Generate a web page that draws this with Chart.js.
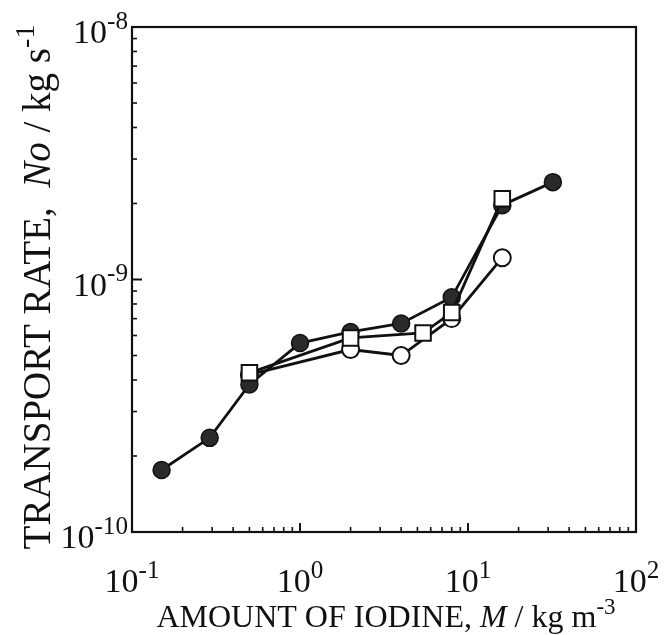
<!DOCTYPE html>
<html>
<head>
<meta charset="utf-8">
<script src="https://cdn.jsdelivr.net/npm/chart.js@4.4.1/dist/chart.umd.min.js"></script>
<style>
  body { margin: 0; background: #fff; }
</style>
</head>
<body>
<canvas id="myChart" width="669" height="635"></canvas>
<script>
// (log-log)
let filledX = [0.15, 0.29, 0.5, 1, 2, 4, 8, 16, 32];
let filledY = [1.76e-10, 2.36e-10, 3.84e-10, 5.6e-10, 6.2e-10, 6.7e-10, 8.5e-10, 1.97e-9, 2.43e-9];
let squareX = [0.5, 2, 5.4, 8, 16];
let squareY = [4.27e-10, 5.87e-10, 6.14e-10, 7.4e-10, 2.09e-9];
let openX = [0.5, 2, 4, 8, 16];
let openY = [4.2e-10, 5.28e-10, 5.0e-10, 7.0e-10, 1.22e-9];

let xTicks = [0.1, 1, 10, 100];
let xTickExp = ['-1', '0', '1', '2'];
let yTicks = [1e-10, 1e-9, 1e-8];
let yTickExp = ['-10', '-9', '-8'];

let serif = '"Liberation Serif", "DejaVu Serif", serif';

function pts(xs, ys) {
  return xs.map((x, i) => ({ x: x, y: ys[i] }));
}

// text made of pieces (italic / superscript)
function richWidth(ctx, parts, size, supRatio) {
  let w = 0;
  parts.forEach(p => {
    let s = p.sup ? size * supRatio : size;
    ctx.font = (p.italic ? 'italic ' : '') + s + 'px ' + serif;
    w += ctx.measureText(p.t).width;
  });
  return w;
}

function drawRich(ctx, parts, x, y, size, align, supRatio) {
  supRatio = supRatio || 0.68;
  let w = richWidth(ctx, parts, size, supRatio);
  let cx = x;
  if (align === 'center') cx = x - w / 2;
  if (align === 'right') cx = x - w;
  ctx.textBaseline = 'alphabetic';
  ctx.textAlign = 'left';
  parts.forEach(p => {
    let s = p.sup ? size * supRatio : size;
    ctx.font = (p.italic ? 'italic ' : '') + s + 'px ' + serif;
    ctx.fillText(p.t, cx, p.sup ? y - size * 0.42 : y);
    cx += ctx.measureText(p.t).width;
  });
}

let axesPlugin = {
  id: 'axesPlugin',
  afterDraw: (chart) => {
    let ctx = chart.ctx;
    let a = chart.chartArea;
    let xs = chart.scales.x;
    let ys = chart.scales.y;
    ctx.save();
    ctx.strokeStyle = '#111';
    ctx.fillStyle = '#111';
    ctx.lineWidth = 2.2;
    ctx.strokeRect(a.left, a.top, a.right - a.left, a.bottom - a.top);

    // bottom ticks, pointing in
    ctx.lineWidth = 1.6;
    for (let d = 0.1; d < 100; d *= 10) {
      for (let m = 1; m <= 10; m++) {
        let px = xs.getPixelForValue(d * m);
        let len = (m === 1 || m === 10) ? 9 : 5;
        ctx.beginPath();
        ctx.moveTo(px, a.bottom);
        ctx.lineTo(px, a.bottom - len);
        ctx.stroke();
      }
    }
    // left ticks, pointing in
    for (let d = 1e-10; d < 1e-8 * 0.99; d *= 10) {
      for (let m = 1; m <= 10; m++) {
        let py = ys.getPixelForValue(d * m);
        let len = (m === 1 || m === 10) ? 10 : 5;
        ctx.beginPath();
        ctx.moveTo(a.left, py);
        ctx.lineTo(a.left + len, py);
        ctx.stroke();
      }
    }

    // tick labels
    xTicks.forEach((v, i) => {
      let px = xs.getPixelForValue(v);
      drawRich(ctx, [{ t: '10' }, { t: xTickExp[i], sup: true }], px, 592, 34, 'center', 0.74);
    });
    yTicks.forEach((v, i) => {
      let py = ys.getPixelForValue(v);
      drawRich(ctx, [{ t: '10' }, { t: yTickExp[i], sup: true }], a.left - 4, py + 16, 34, 'right', 0.74);
    });

    // axis titles
    drawRich(ctx, [
      { t: 'AMOUNT OF IODINE, ' }, { t: 'M', italic: true }, { t: ' / kg m' }, { t: '-3', sup: true }
    ], 386, 627, 32, 'center', 0.72);

    ctx.translate(50, 287);
    ctx.rotate(-Math.PI / 2);
    drawRich(ctx, [
      { t: 'TRANSPORT RATE,  ' }, { t: 'No', italic: true }, { t: ' / kg s' }, { t: '-1', sup: true }
    ], 0, 0, 39, 'center', 0.72);
    ctx.restore();
  }
};

let ctx = document.getElementById('myChart').getContext('2d');

let myChart = new Chart(ctx, {
  type: 'line',
  data: {
    datasets: [{
      label: 'open',
      data: pts(openX, openY),
      borderColor: '#111',
      borderWidth: 2.8,
      backgroundColor: '#fff',
      pointBackgroundColor: '#fff',
      pointBorderColor: '#111',
      pointBorderWidth: 2,
      pointRadius: 8.5,
      pointStyle: 'circle',
      order: 3
    }, {
      label: 'filled',
      data: pts(filledX, filledY),
      borderColor: '#111',
      borderWidth: 2.8,
      backgroundColor: '#2a2a2a',
      pointBackgroundColor: '#2a2a2a',
      pointBorderColor: '#111',
      pointBorderWidth: 1.5,
      pointRadius: 8.5,
      pointStyle: 'circle',
      order: 2
    }, {
      label: 'square',
      data: pts(squareX, squareY),
      borderColor: '#111',
      borderWidth: 2.8,
      backgroundColor: '#fff',
      pointBackgroundColor: '#fff',
      pointBorderColor: '#111',
      pointBorderWidth: 2,
      pointRadius: 11,
      pointStyle: 'rect',
      order: 1
    }]
  },
  options: {
    responsive: false,
    animation: false,
    layout: {
      padding: { left: 132, right: 33, top: 27, bottom: 103 }
    },
    plugins: {
      legend: { display: false },
      tooltip: { enabled: false }
    },
    scales: {
      x: { type: 'logarithmic', min: 0.1, max: 100, display: false },
      y: { type: 'logarithmic', min: 1e-10, max: 1e-8, display: false }
    }
  },
  plugins: [axesPlugin]
});
</script>
</body>
</html>
